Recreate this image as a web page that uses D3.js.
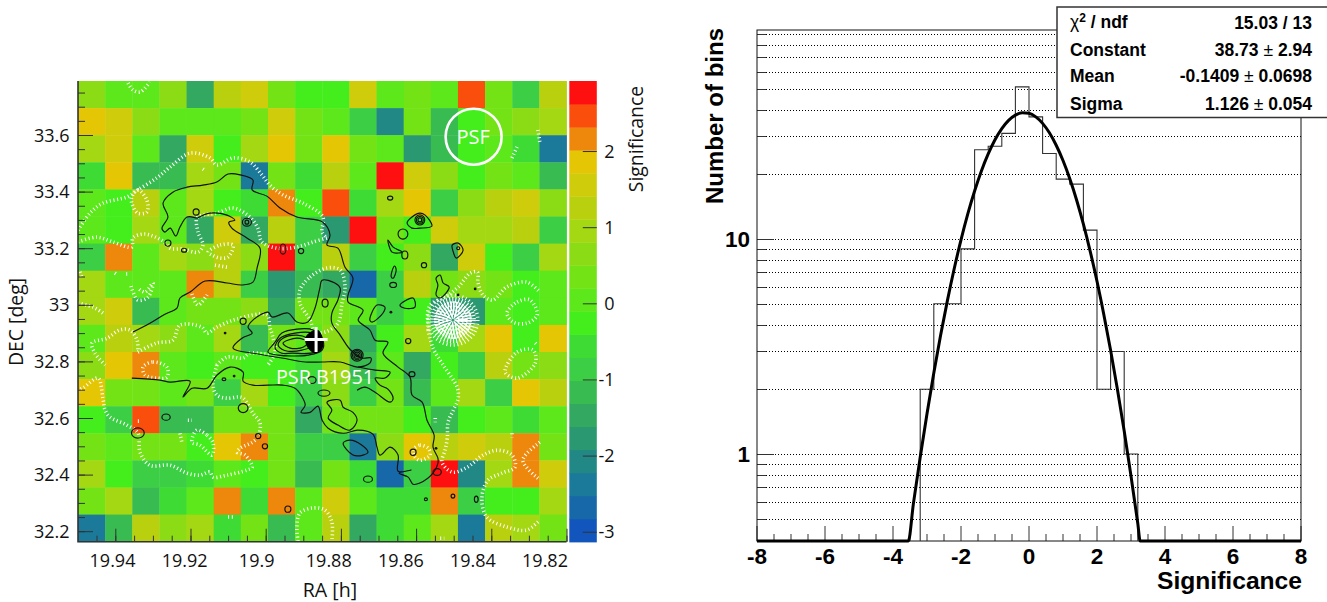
<!DOCTYPE html>
<html><head><meta charset="utf-8">
<style>html,body{margin:0;padding:0;background:#fff}svg{display:block}</style>
<script src="https://cdn.jsdelivr.net/npm/d3@7"></script>
</head><body><svg id="c" width="1327" height="602"></svg>
<script>
// ---------- LEFT PANEL DATA ----------
const raTickLabels=[19.94,19.92,19.9,19.88,19.86,19.84,19.82];
const decTickLabels=[33.6,33.4,33.2,33,32.8,32.6,32.4,32.2];
const cbarTickLabels=[2,1,0,-1,-2,-3];
const significance=[
[0.7,0.1,0.1,0.7,-1.4,1.3,1.6,0.4,-0.2,-0.2,1.6,0.1,0.4,0.1,2.5,0.4,-0.8,1.3],
[1.9,1.6,0.7,0.1,0.1,0.1,0.4,1.6,0.4,0.1,-0.8,-2.0,0.4,-1.1,-0.2,0.4,0.7,1.0],
[1.0,1.6,0.1,-1.4,1.6,-0.2,1.0,1.9,0.4,1.9,0.4,0.1,-1.7,-1.1,-0.2,0.1,-0.5,-2.3],
[-0.5,1.9,-1.1,-1.1,1.0,0.4,-2.3,0.4,-0.5,1.3,0.1,2.8,1.6,0.7,-0.2,0.4,0.1,-1.1],
[0.1,-0.2,1.3,0.1,1.0,-0.2,-0.5,2.2,-0.2,2.5,-0.5,1.0,1.9,-0.8,0.7,1.3,1.6,0.7],
[0.1,-0.2,1.0,0.1,-1.4,1.6,-1.4,1.3,-0.8,-1.7,2.8,0.4,-0.2,1.6,1.0,1.0,1.3,-0.8],
[-0.8,2.2,0.1,1.0,0.7,1.3,0.7,2.8,-0.8,1.3,-0.8,-0.2,0.7,-1.4,1.6,-0.2,-0.8,1.0],
[1.0,0.1,0.1,0.1,2.2,1.3,-0.8,-1.7,-1.1,-1.4,-2.6,-0.8,1.3,0.4,0.7,0.4,-0.2,0.1],
[1.0,1.6,-1.1,0.1,0.4,0.4,0.7,-1.4,0.4,0.4,0.1,-0.8,-0.2,-1.7,-1.7,0.1,-0.2,0.1],
[0.1,1.3,1.0,0.7,0.1,1.0,-1.1,0.4,0.1,0.7,-1.4,-0.2,1.0,-0.5,1.0,1.9,-0.2,1.9],
[0.7,1.9,2.2,0.1,-0.2,0.1,-0.2,-0.2,-0.5,1.0,-1.1,0.1,-1.4,-0.2,-0.8,1.3,0.4,0.7],
[1.9,0.4,0.4,0.1,0.4,-0.8,1.0,-0.2,-0.8,0.7,-0.8,0.4,-1.1,0.1,1.0,-0.8,1.9,1.3],
[-0.2,-0.8,2.5,-1.1,-1.1,0.4,0.4,0.4,-1.4,0.4,0.4,0.4,-0.2,-1.1,-0.2,0.1,-0.5,0.1],
[0.4,0.1,0.4,0.4,-0.2,1.9,2.2,0.4,-0.8,-0.8,-2.3,0.7,1.9,1.3,1.6,1.3,2.2,0.4],
[1.0,-0.2,-0.8,-0.8,-0.5,0.1,-0.2,0.4,-1.1,0.4,-0.5,-2.6,-0.8,2.8,-2.0,1.0,2.2,1.6],
[0.4,1.0,-1.1,-0.5,0.1,2.2,-0.5,2.2,0.1,1.6,0.1,-0.5,-0.5,2.2,-0.8,-0.2,-0.2,1.0],
[-2.3,-1.1,1.3,0.7,1.0,-0.5,0.4,-1.1,0.1,1.3,-1.4,-0.5,0.1,1.0,-2.3,1.3,1.0,0.4]];
const levelColors=["#1255bd","#1668a8","#1b7a9a","#228885","#2a9870","#32a860","#38bb50","#3ccf45","#3edb35","#44ed1c","#5ce81a","#73e316","#8bdc14","#a3d812","#b9d00f","#cfcc0c","#e5c605","#ee880c","#f94e0c","#ff1010"];
// Radio contours, traced as [RA h, DEC deg]
const northArc=[[19.9183,33.306],[19.9209,33.310],[19.9228,33.275],[19.9239,33.243],[19.9254,33.271],[19.9268,33.257],[19.9276,33.271],[19.9260,33.310],[19.9273,33.359],[19.9247,33.398],[19.9209,33.416],[19.9167,33.423],[19.9130,33.434],[19.9100,33.462],[19.9068,33.459],[19.9034,33.441],[19.9036,33.406],[19.8997,33.384],[19.8962,33.342],[19.8917,33.310],[19.8848,33.292],[19.8829,33.246],[19.8837,33.211],[19.8808,33.200],[19.8789,33.133],[19.8768,33.094],[19.8781,33.034],[19.8781,33.010],[19.8741,32.981],[19.8754,32.946],[19.8723,32.911],[19.8709,32.875],[19.8675,32.868],[19.8688,32.829],[19.8648,32.780],[19.8616,32.744],[19.8611,32.681],[19.8584,32.656],[19.8571,32.592],[19.8552,32.539],[19.8555,32.497],[19.8542,32.458],[19.8542,32.440],[19.8555,32.405],[19.8590,32.370],[19.8608,32.366],[19.8621,32.391],[19.8645,32.405],[19.8613,32.416],[19.8648,32.412],[19.8648,32.469],[19.8669,32.497],[19.8696,32.469],[19.8704,32.497],[19.8715,32.543],[19.8755,32.557],[19.8794,32.546],[19.8834,32.564],[19.8850,32.592],[19.8861,32.642],[19.8882,32.620],[19.8906,32.620],[19.8895,32.645],[19.8903,32.674],[19.8922,32.705],[19.8954,32.716],[19.8994,32.716],[19.9034,32.716],[19.9060,32.730],[19.9060,32.762],[19.9095,32.780],[19.9130,32.751],[19.9156,32.705],[19.9196,32.705],[19.9220,32.674],[19.9201,32.730],[19.9254,32.727],[19.9281,32.734],[19.9356,32.741]];
const innerArc=[[19.9183,33.306],[19.9148,33.324],[19.9103,33.317],[19.9082,33.299],[19.9098,33.292],[19.9090,33.271],[19.9050,33.236],[19.9015,33.200],[19.9023,33.130],[19.9034,33.080],[19.9063,33.070],[19.9103,33.077],[19.9161,33.084],[19.9201,33.045],[19.9228,33.024],[19.9236,32.988],[19.9268,32.967],[19.9308,32.935],[19.9353,32.904]];
const eastLobe=[[19.8755,32.780],[19.8709,32.769],[19.8669,32.762],[19.8683,32.741],[19.8709,32.741],[19.8696,32.716],[19.8675,32.702],[19.8661,32.670],[19.8669,32.656],[19.8709,32.691],[19.8736,32.709],[19.8757,32.698]];
const closedContours=[
[[19.9087,32.847],[19.9063,32.882],[19.9036,32.900],[19.9047,32.921],[19.9034,32.946],[19.8994,32.974],[19.8983,32.957],[19.8941,32.971],[19.8917,32.939],[19.8888,32.939],[19.8869,32.988],[19.8856,33.059],[19.8850,33.087],[19.8816,33.077],[19.8802,33.059],[19.8808,33.017],[19.8824,32.971],[19.8824,32.935],[19.8802,32.893],[19.8776,32.843],[19.8744,32.812],[19.8720,32.812],[19.8723,32.794],[19.8755,32.780],[19.8802,32.798],[19.8850,32.798],[19.8895,32.798],[19.8957,32.812],[19.9020,32.826]],
[[19.8994,32.833],[19.8975,32.868],[19.8957,32.900],[19.8917,32.914],[19.8874,32.911],[19.8848,32.875],[19.8850,32.840],[19.8888,32.822],[19.8930,32.819],[19.8967,32.822]],
[[19.8975,32.847],[19.8962,32.882],[19.8922,32.900],[19.8877,32.900],[19.8850,32.868],[19.8869,32.833],[19.8930,32.829],[19.8957,32.829]],
[[19.8967,32.858],[19.8954,32.882],[19.8917,32.893],[19.8888,32.882],[19.8869,32.858],[19.8903,32.840],[19.8941,32.836],[19.8957,32.843]],
[[19.8954,32.864],[19.8917,32.882],[19.8888,32.868],[19.8901,32.850],[19.8935,32.847]],
[[19.8624,33.289],[19.8611,33.310],[19.8590,33.324],[19.8576,33.317],[19.8558,33.278],[19.8590,33.271],[19.8611,33.271]],
[[19.8675,33.229],[19.8661,33.204],[19.8637,33.186],[19.8648,33.183],[19.8664,33.186]],
[[19.8504,33.211],[19.8488,33.218],[19.8475,33.193],[19.8493,33.165],[19.8501,33.186]],
[[19.8657,33.137],[19.8653,33.123],[19.8661,33.094],[19.8666,33.098],[19.8664,33.119]],
[[19.8547,33.094],[19.8536,33.105],[19.8528,33.077],[19.8512,33.063],[19.8536,33.024],[19.8547,33.035],[19.8542,33.070]],
[[19.8643,32.999],[19.8608,33.024],[19.8603,32.992],[19.8630,32.988]],
[[19.8723,32.946],[19.8704,32.999],[19.8683,32.992],[19.8688,32.971],[19.8717,32.939]],
[[19.8837,32.656],[19.8802,32.663],[19.8794,32.638],[19.8768,32.620],[19.8757,32.592],[19.8776,32.557],[19.8808,32.575],[19.8834,32.600],[19.8824,32.628]],
[[19.8794,32.511],[19.8776,32.522],[19.8744,32.504],[19.8728,32.479],[19.8741,32.469],[19.8768,32.469]]];
const pulsarCore=[[19.8895,32.882],[19.8882,32.903],[19.8861,32.911],[19.8848,32.882],[19.8850,32.843],[19.8869,32.829],[19.8888,32.847]];
// small radio islands: RA, DEC, half-width (h), half-height (deg)
const islands=[[19.9185,33.328,.0008,.011],[19.9050,33.292,.0012,.014],[19.9050,33.292,.0005,.007],[19.9260,33.218,.0008,.011],[19.9217,33.193,.0007,.007],[19.8954,33.197,.0008,.018],[19.8906,33.190,.0007,.009],[19.8842,33.006,.0008,.014],[19.8669,33.377,.0007,.007],[19.8590,33.300,.0013,.018],[19.8590,33.300,.0009,.012],[19.8590,33.300,.0005,.007],[19.8635,33.250,.0013,.018],[19.8630,33.176,.0008,.014],[19.8579,33.140,.0007,.009],[19.8488,33.200,.0004,.005],[19.8661,33.070,.0009,.009],[19.8757,32.822,.0016,.021],[19.8757,32.822,.0012,.016],[19.8757,32.822,.0008,.011],[19.8757,32.822,.0004,.005],[19.8621,32.872,.0007,.009],[19.8611,32.755,.0008,.009],[19.9060,32.942,.0008,.011],[19.9111,32.737,.0005,.005],[19.9060,32.635,.0013,.016],[19.9265,32.603,.0011,.011],[19.9340,32.547,.0017,.018],[19.9020,32.536,.0007,.009],[19.9002,32.500,.0007,.009],[19.8941,32.278,.0008,.011],[19.8877,32.734,.0011,.012],[19.8845,32.688,.0016,.011],[19.8728,32.384,.0012,.011],[19.8544,32.409,.0011,.012],[19.8608,32.479,.0008,.011],[19.8574,32.313,.0004,.005],[19.8502,32.324,.0005,.007],[19.8440,32.313,.0005,.011]];
const dots=[[19.8488,33.035],[19.8443,33.056],[19.8667,32.974],[19.9108,32.900],[19.9084,32.748],[19.8547,32.493]];
// white dotted significance contours
const whiteOpen=[
[[19.9366,33.784],[19.9353,33.759],[19.9334,33.752],[19.9308,33.787]],
[[19.9499,33.264],[19.9467,33.324],[19.9433,33.359],[19.9369,33.381],[19.9340,33.406],[19.9290,33.448],[19.9254,33.487],[19.9201,33.536],[19.9148,33.519],[19.9130,33.494],[19.9087,33.519],[19.9042,33.505],[19.9010,33.459],[19.8989,33.423],[19.8954,33.388],[19.8901,33.359],[19.8848,33.310],[19.8850,33.257],[19.8837,33.236]],
[[19.9499,33.222],[19.9449,33.239],[19.9406,33.222],[19.9356,33.204],[19.9353,33.236],[19.9321,33.250],[19.9273,33.225],[19.9254,33.200],[19.9220,33.197],[19.9180,33.186],[19.9167,33.211],[19.9180,33.257],[19.9183,33.306],[19.9167,33.317],[19.9130,33.324],[19.9087,33.342],[19.9042,33.310],[19.9021,33.271],[19.9010,33.222],[19.8970,33.200],[19.8917,33.204],[19.8874,33.222],[19.8837,33.236]],
[[19.9135,33.140],[19.9103,33.133]],[[19.9167,33.480],[19.9159,33.473]],[[19.9401,33.112],[19.9393,33.105]],[[19.9371,33.109],[19.9364,33.109]],[[19.9494,33.116],[19.9489,33.098]],
[[19.9358,33.066],[19.9340,33.017],[19.9313,33.027],[19.9300,33.077],[19.9321,33.045],[19.9340,33.059]],
[[19.9499,33.006],[19.9459,32.992],[19.9433,32.971]],
[[19.9196,33.038],[19.9180,32.999],[19.9156,33.035]],
[[19.9340,32.833],[19.9290,32.865],[19.9247,32.875],[19.9228,32.928],[19.9170,32.921],[19.9156,32.900],[19.9130,32.921],[19.9076,32.950],[19.8997,32.964],[19.8989,32.921],[19.8981,32.886],[19.8975,32.833],[19.8994,32.787]],
[[19.9427,32.787],[19.9454,32.829],[19.9462,32.865],[19.9422,32.882],[19.9388,32.911],[19.9361,32.911],[19.9342,32.875],[19.9340,32.833]],
[[19.9130,32.787],[19.9103,32.815],[19.9060,32.812],[19.9042,32.829],[19.8989,32.822]],
[[19.9130,32.787],[19.9140,32.716],[19.9130,32.681],[19.9103,32.670],[19.9074,32.674],[19.9060,32.670],[19.9034,32.617],[19.9015,32.582],[19.9021,32.532],[19.9036,32.514],[19.9068,32.493],[19.9076,32.479],[19.9055,32.469],[19.9036,32.426],[19.9050,32.416],[19.9103,32.398],[19.9140,32.391],[19.9148,32.409],[19.9175,32.398],[19.9209,32.405],[19.9254,32.433],[19.9308,32.433],[19.9334,32.479],[19.9340,32.547],[19.9369,32.575],[19.9414,32.603],[19.9427,32.628],[19.9433,32.670],[19.9446,32.741],[19.9486,32.706],[19.9499,32.699]],
[[19.9228,32.546],[19.9223,32.514]],[[19.9207,32.592],[19.9196,32.592]],[[19.9340,32.589],[19.9332,32.589]],[[19.9100,32.250],[19.9084,32.250]],
[[19.8914,32.165],[19.8917,32.215],[19.8909,32.264],[19.8874,32.282],[19.8842,32.274],[19.8824,32.232],[19.8824,32.165]],
[[19.8568,32.911],[19.8555,32.847],[19.8528,32.787],[19.8491,32.709],[19.8488,32.670],[19.8501,32.628],[19.8515,32.585],[19.8517,32.529],[19.8523,32.486],[19.8531,32.444],[19.8504,32.409],[19.8464,32.426],[19.8422,32.469],[19.8382,32.486],[19.8345,32.469],[19.8337,32.426],[19.8372,32.405],[19.8409,32.380],[19.8425,32.317],[19.8412,32.250],[19.8359,32.215],[19.8306,32.204],[19.8271,32.239]],
[[19.8568,32.911],[19.8568,32.982],[19.8557,33.006],[19.8523,33.027],[19.8488,33.063],[19.8456,33.112],[19.8437,33.116],[19.8435,33.077],[19.8422,33.034],[19.8396,33.017],[19.8359,33.063],[19.8306,33.080],[19.8271,33.045]],
[[19.8271,32.514],[19.8316,32.451],[19.8276,32.387]],[[19.8345,32.546],[19.8345,32.532]],[[19.8549,32.600],[19.8549,32.585]],[[19.8283,32.865],[19.8278,32.858]],
[[19.8345,33.519],[19.8329,33.565]],[[19.8276,33.618],[19.8271,33.575]],[[19.8536,32.175],[19.8525,32.175]]];
const whiteClosed=[
[[19.9356,33.381],[19.9340,33.406],[19.9316,33.370],[19.9316,33.328],[19.9340,33.324],[19.9356,33.359]],
[[19.9153,33.186],[19.9121,33.211],[19.9087,33.211],[19.9100,33.169],[19.9121,33.165],[19.9143,33.176]],
[[19.8909,33.052],[19.8882,33.098],[19.8837,33.130],[19.8802,33.123],[19.8789,33.063],[19.8797,33.006],[19.8808,32.935],[19.8842,32.904],[19.8869,32.904],[19.8882,32.946],[19.8909,33.006]],
[[19.9326,32.780],[19.9300,32.798],[19.9263,32.780],[19.9263,32.744],[19.9290,32.741],[19.9321,32.752]],
[[19.9183,32.557],[19.9156,32.539],[19.9140,32.511],[19.9143,32.469],[19.9175,32.504],[19.9196,32.514]],
[[19.8608,32.486],[19.8590,32.504],[19.8568,32.493],[19.8563,32.469],[19.8590,32.451],[19.8603,32.462]],
[[19.8363,32.762],[19.8331,32.833],[19.8289,32.840],[19.8283,32.794],[19.8331,32.741]],
[[19.8358,32.971],[19.8331,33.010],[19.8297,33.017],[19.8278,32.964],[19.8305,32.935],[19.8342,32.939]]];
// the strong negative spot: nested rings, RA, DEC, half-width, half-height
const whiteRings=[[19.8502,32.946,.0011,.014],[19.8502,32.946,.0021,.028],[19.8502,32.946,.0032,.042],[19.8502,32.946,.0043,.057],[19.8502,32.946,.0053,.071],[19.8502,32.946,.0066,.088]];
const psfCentre=[19.8447,33.594], pulsarPos=[19.8866,32.877];

// ---------- RIGHT PANEL DATA ----------
const binEdges=[-3.2,-2.8,-2.4,-2.0,-1.6,-1.2,-0.8,-0.4,0,0.4,0.8,1.2,1.6,2.0,2.4,2.8,3.2];
const binCounts=[2,5,5,9,26,27,31,51,37,25,19,18,11,2,3,1];
const fitX=[-8,-3.55,-3.4,-3.2,-3,-2.8,-2.6,-2.4,-2.2,-2,-1.8,-1.6,-1.4,-1.2,-1,-.8,-.6,-.4,-.2,0,.2,.4,.6,.8,1,1.2,1.4,1.6,1.8,2,2.2,2.4,2.6,2.8,3,3.2,3.27,8];
const fitY=[.394,.394,.588,.966,1.541,2.381,3.566,5.17,7.27,9.91,13.08,16.72,20.73,24.88,28.95,32.63,35.64,37.71,38.68,38.43,36.99,34.51,31.19,27.31,23.18,19.06,15.19,11.72,8.77,6.36,4.46,3.04,2.0,1.28,.791,.475,.394,.394];
const histXTicks=[-8,-6,-4,-2,0,2,4,6,8];
const histYMajor=[1,10];
const histYMinor=[.5,.6,.7,.8,.9,2,3,4,5,6,7,8,9,20,30,40,50,60,70,80,90];
const statsRows=[["Constant","38.73","2.94"],["Mean","-0.1409","0.0698"],["Sigma","1.126","0.054"]];

// ---------- DRAW ----------
const svg=d3.select("#c");
const mapFont="'Open Sans',sans-serif", rootFont="'Liberation Sans',Arial,sans-serif";
const L=78,R=566.5,T=81,B=541.7;
const x=d3.scaleLinear().domain([19.94,19.82]).range([115.3,566.5]);
const xLabel=d3.scaleLinear().domain([19.94,19.82]).range([112.5,545]);
const y=d3.scaleLinear().domain([33.6,32.2]).range([135,531.2]);
const col=d3.scaleBand().domain(d3.range(18)).range([L,R]);
const row=d3.scaleBand().domain(d3.range(17)).range([T,B]);
const sigDomain=[-3.135,2.92];
const sig=d3.scaleQuantize().domain(sigDomain).range(levelColors);
const cb=d3.scaleLinear().domain(sigDomain).range([542,81]);
svg.append("clipPath").attr("id","clipmap").append("rect").attr("x",L).attr("y",T).attr("width",R-L).attr("height",B-T);
const m=svg.append("g");
significance.forEach((r,i)=>r.forEach((v,j)=>{
  m.append("rect").attr("x",col(j)).attr("y",row(i)).attr("width",col.bandwidth()+.4).attr("height",row.bandwidth()+.4).attr("fill",sig(v));
}));
const over=svg.append("g").attr("clip-path","url(#clipmap)");
const openPath=d=>d3.line().x(p=>x(p[0])).y(p=>y(p[1])).curve(d3.curveCatmullRom.alpha(.5))(d);
const closedPath=d=>d3.line().x(p=>x(p[0])).y(p=>y(p[1])).curve(d3.curveCatmullRomClosed.alpha(.5))(d);
const ell=(g,d)=>g.append("ellipse").attr("cx",x(d[0])).attr("cy",y(d[1])).attr("rx",Math.abs(x(d[0]+d[2])-x(d[0]))).attr("ry",Math.abs(y(d[1]+d[3])-y(d[1])));
const wStyle=s=>s.attr("fill","none").attr("stroke","#fff").attr("stroke-width",3.6).attr("stroke-dasharray","1 2.7");
whiteOpen.forEach(d=>wStyle(over.append("path").attr("d",openPath(d))));
whiteClosed.forEach(d=>wStyle(over.append("path").attr("d",closedPath(d))));
whiteRings.forEach((d,i)=>{
  const s=wStyle(ell(over,d));
  if(i<4) s.attr("stroke-width",5.5).attr("stroke-dasharray","1.8 1");
  else if(i===4) s.attr("stroke-width",6).attr("stroke-dasharray","1.1 1.9");
  else s.attr("stroke-width",3.6);
});
const bStyle=s=>s.attr("fill","none").attr("stroke","#111").attr("stroke-width",1.15);
[northArc,innerArc,eastLobe].forEach(d=>bStyle(over.append("path").attr("d",openPath(d))));
closedContours.forEach(d=>bStyle(over.append("path").attr("d",closedPath(d))));
islands.forEach(d=>bStyle(ell(over,d)));
dots.forEach(d=>over.append("circle").attr("cx",x(d[0])).attr("cy",y(d[1])).attr("r",1.4).attr("fill","#111"));
over.append("path").attr("d",closedPath(pulsarCore)).attr("fill","#000");
over.append("circle").attr("cx",x(psfCentre[0])).attr("cy",y(psfCentre[1])).attr("r",28).attr("fill","none").attr("stroke","#fff").attr("stroke-width",2.6);
svg.append("text").text("PSF").attr("x",x(psfCentre[0])-.5).attr("y",y(psfCentre[1])+7).attr("text-anchor","middle").attr("font-family",mapFont).attr("font-size",20).attr("fill","#fff");
const px=x(pulsarPos[0]),py=y(pulsarPos[1]);
over.append("path").attr("d",`M${px-11.5},${py}H${px+11.5}M${px},${py-12.5}V${py+12.5}`).attr("stroke","#fff").attr("stroke-width",3);
svg.append("text").text("PSR B1951").attr("x",325).attr("y",384).attr("text-anchor","middle").attr("font-family",mapFont).attr("font-size",19.8).attr("fill","#fff");
function inner(g,orient,scale,vals,len){
  g.call(orient(scale).tickValues(vals).tickSize(-len).tickFormat(""));
  g.select(".domain").remove();g.selectAll("line").attr("stroke","#333").attr("stroke-width",1);
}
const mxMinor=d3.range(0,27).map(i=>+(19.945-i*.005).toFixed(3)).filter(v=>v>=19.82);
const myMinor=d3.range(0,33).map(i=>+(33.75-i*.05).toFixed(2)).filter(v=>v>=32.2);
inner(svg.append("g").attr("transform",`translate(0,${B})`),d3.axisBottom,x,mxMinor,6);
inner(svg.append("g").attr("transform",`translate(0,${B})`),d3.axisBottom,x,raTickLabels,13);
inner(svg.append("g").attr("transform",`translate(${L},0)`),d3.axisLeft,y,myMinor,7);
inner(svg.append("g").attr("transform",`translate(${L},0)`),d3.axisLeft,y,decTickLabels,15);
svg.append("path").attr("d",`M${L},${T}V${B}H${R}`).attr("fill","none").attr("stroke","#333").attr("stroke-width",1.6);
const lab=(t,xx,yy,a="middle",fs=18)=>svg.append("text").text(t).attr("x",xx).attr("y",yy).attr("text-anchor",a).attr("font-family",mapFont).attr("font-size",fs).attr("fill","#111");
raTickLabels.forEach(v=>lab(d3.format("~g")(v),xLabel(v),566.5));
decTickLabels.forEach(v=>lab(d3.format("~g")(v),69.5,y(v)+6.5,"end"));
lab("RA [h]",330,597,"middle",19.6);
lab("DEC [deg]",0,0,"middle",19.4).attr("transform","translate(23,322) rotate(-90)");
lab("Significance",0,0,"middle",19.4).attr("transform","translate(643,139) rotate(-90)");
const step=(sigDomain[1]-sigDomain[0])/levelColors.length;
levelColors.forEach((c,i)=>{
  const lo=sigDomain[0]+step*i, hi=lo+step;
  svg.append("rect").attr("x",569.3).attr("width",27.5).attr("y",cb(hi)).attr("height",cb(lo)-cb(hi)+.4).attr("fill",c);
});
inner(svg.append("g").attr("transform","translate(596.8,0)"),d3.axisLeft,cb,cbarTickLabels,-14);
cbarTickLabels.forEach(v=>lab(v,614.5,cb(v)+6.5,"end"));

// ---------- HISTOGRAM ----------
const hL=757,hR=1301,hT=30,hB=541;
const hx=d3.scaleLinear().domain([-8,8]).range([hL,hR]);
const hy=d3.scaleLog().domain([.394,93.8]).range([hB,hT]);
const snap=v=>Math.round(hy(v))+.5;
const grid=svg.append("g"), tickG=svg.append("g");
[...histYMinor,...histYMajor].forEach(v=>grid.append("line").attr("x1",hL).attr("x2",hR).attr("y1",snap(v)).attr("y2",snap(v)).attr("stroke","#000").attr("stroke-width",1).attr("stroke-dasharray","1 2"));
histYMinor.forEach(v=>tickG.append("line").attr("x1",hL).attr("x2",hL+9).attr("y1",snap(v)).attr("y2",snap(v)).attr("stroke","#333"));
histYMajor.forEach(v=>tickG.append("line").attr("x1",hL).attr("x2",hL+17).attr("y1",snap(v)).attr("y2",snap(v)).attr("stroke","#333"));
d3.range(-8,8.01,.5).forEach(v=>{const major=v%2===0;tickG.append("line").attr("x1",hx(v)).attr("x2",hx(v)).attr("y1",hB).attr("y2",hB-(major?15:7)).attr("stroke","#333");});
svg.append("rect").attr("x",hL).attr("y",hT).attr("width",hR-hL).attr("height",hB-hT).attr("fill","none").attr("stroke","#111").attr("stroke-width",1);
const stairs=[[binEdges[0],.394]].concat(binCounts.map((c,i)=>[binEdges[i],c]),[[binEdges[binEdges.length-1],binCounts[binCounts.length-1]],[binEdges[binEdges.length-1],.394]]);
svg.append("path").attr("d",d3.line().x(d=>hx(d[0])).y(d=>hy(d[1])).curve(d3.curveStepAfter)(stairs)).attr("fill","none").attr("stroke","#333").attr("stroke-width",1.1);
svg.append("path").attr("d",d3.line().x((d,i)=>hx(fitX[i])).y((d,i)=>hy(fitY[i])).curve(d3.curveMonotoneX)(fitX)).attr("fill","none").attr("stroke","#000").attr("stroke-width",3);
const bold=(t,xx,yy,fs,a="middle")=>svg.append("text").text(t).attr("x",xx).attr("y",yy).attr("text-anchor",a).attr("font-family",rootFont).attr("font-weight","bold").attr("font-size",fs).attr("fill","#000");
histXTicks.forEach(v=>bold(v,hx(v),563.5,22.5));
histYMajor.forEach(v=>bold(v,750,hy(v)+8,22.5,"end"));
bold("Significance",1302,588.5,23.5,"end").attr("textLength",145).attr("lengthAdjust","spacingAndGlyphs");
svg.append("text").text("Number of bins").attr("transform","translate(723,116) rotate(-90)").attr("text-anchor","middle").attr("font-family",rootFont).attr("font-weight","bold").attr("font-size",24);
svg.append("rect").attr("x",1057).attr("y",7).attr("width",275).attr("height",110.5).attr("fill","#fff").attr("stroke","#333").attr("stroke-width",1.5);
const chi=svg.append("text").attr("x",1070).attr("y",28).attr("font-family",rootFont).attr("font-weight","bold").attr("font-size",17.5);
chi.append("tspan").text("χ").attr("font-weight","normal");
chi.append("tspan").text("2").attr("dy",-6).attr("font-size",12);
chi.append("tspan").text(" / ndf").attr("dy",6);
bold("15.03 / 13",1312,28.5,17.5,"end");
const rowY=[56,82,110];
statsRows.forEach((r,i)=>{
  bold(r[0],1070,rowY[i],17.5,"start");
  const t=bold("",1312,rowY[i],17.5,"end");
  t.append("tspan").text(r[1]+" ");
  t.append("tspan").text("±").attr("font-weight","normal");
  t.append("tspan").text(" "+r[2]);
});
</script></body></html>
